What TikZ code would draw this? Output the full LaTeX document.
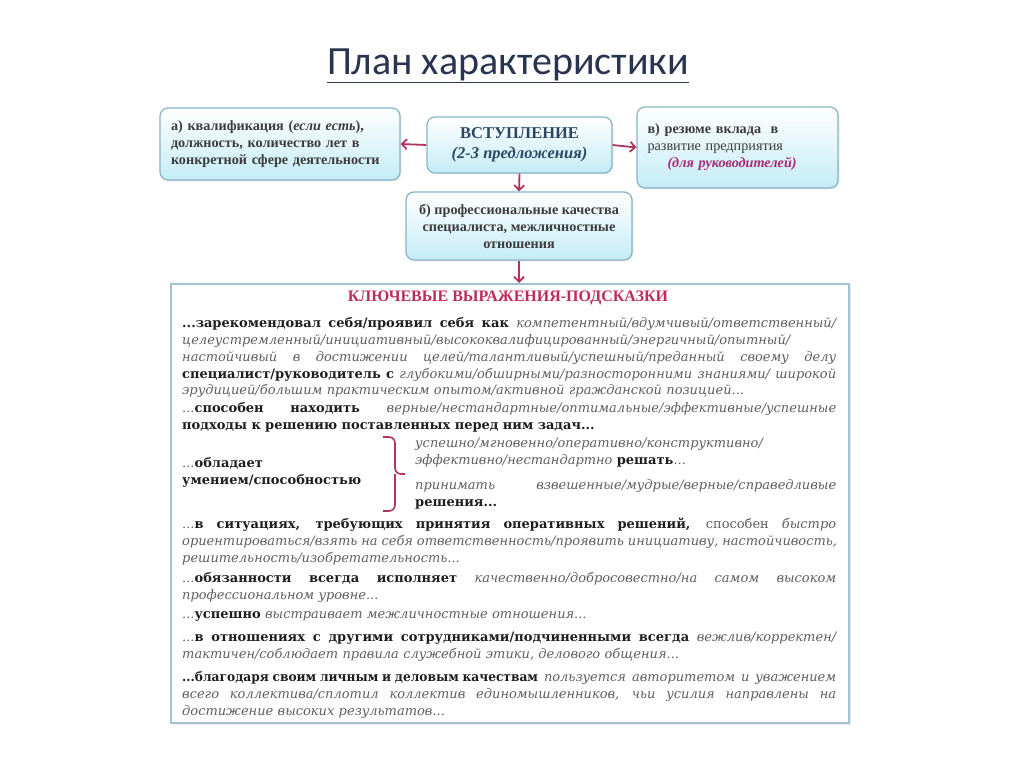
\documentclass[tikz,border=0pt]{standalone}
\usepackage{fontspec}
\setmainfont{Liberation Serif}
\newfontfamily\dvs{DejaVu Serif}
\newfontfamily\carl{Carlito}
\usetikzlibrary{arrows.meta,shadows}
\definecolor{arr}{RGB}{178,52,92}
\definecolor{bord}{RGB}{135,180,200}
\definecolor{fillb}{RGB}{196,236,246}
\definecolor{ttl}{RGB}{40,52,80}
\definecolor{boxt}{RGB}{60,60,60}
\definecolor{vst}{RGB}{45,70,100}
\definecolor{bld}{RGB}{30,30,30}
\definecolor{itc}{RGB}{95,95,95}
\definecolor{mag}{RGB}{170,40,120}
\definecolor{hdr}{RGB}{190,45,90}
\definecolor{bigb}{RGB}{160,195,212}
\newcommand\txb[1]{{\bfseries\color{bld}#1}}
\newcommand\txi[1]{{\itshape\color{itc}#1}}
\newcommand\jl[1]{\par\noindent\hbox to\linewidth{\spaceskip=.3em plus 1fil\relax #1}\par}
\newcommand\lastl[1]{\par\noindent\hbox{#1}\par}
\begin{document}
\begin{tikzpicture}[x=1pt,y=-1pt,
  rbox/.style={draw=bord, line width=1.2pt, rounded corners=8pt, top color=white, bottom color=fillb,
    drop shadow={opacity=0.15,shadow xshift=1.5pt,shadow yshift=-1.5pt},
    inner sep=0pt, text=boxt, font=\bfseries\fontsize{14.2}{17}\selectfont},
  conn/.style={draw=arr, line width=1.8pt, -{Straight Barb[length=5pt,width=10pt]}},
  para/.style={anchor=north west, yshift=16pt, inner sep=0pt, text width=654pt,
    font=\dvs\fontsize{13}{16.7}\selectfont, align=left},
  rpara/.style={para, text width=421pt},
  bracel/.style={draw=arr, line width=1.6pt, rounded corners=6pt}
]
\useasboundingbox (0,0) rectangle (1024,767);
\fill[white] (0,0) rectangle (1024,767);

\node[font=\carl\fontsize{40}{44}\selectfont, text=ttl] (title) at (508,66) {\underline{План характеристики}};

\node[rbox, minimum width=240pt, minimum height=72pt, text width=218pt, align=left] (a) at (280,144)
  {а) квалификация (\textit{если есть}),\\должность, количество лет в\\конкретной сфере деятельности};
\node[rbox, minimum width=185pt, minimum height=56pt, align=center, text=vst, font=\bfseries\fontsize{16.5}{20}\selectfont] (vst) at (519.5,145)
  {ВСТУПЛЕНИЕ\\\textit{(2-3 предложения)}};
\node[rbox, minimum width=201pt, minimum height=81pt, text width=180pt, align=left] (v) at (737.5,147.5)
  {в) резюме вклада \ в\\{\mdseries развитие предприятия}\\\hspace*{20pt}\textcolor{mag}{\itshape(для руководителей)}};
\node[rbox, minimum width=226pt, minimum height=68pt, align=center] (b) at (519,226)
  {б) профессиональные качества\\специалиста, межличностные\\отношения};

\node[draw=bigb, line width=2pt, fill=white, minimum width=678pt, minimum height=439pt, anchor=north west,
  drop shadow={opacity=0.15,shadow xshift=1.5pt,shadow yshift=-1.5pt}] (big) at (170,283) {};

\draw[conn] (vst.west) -- (a.east);
\draw[conn] (vst.east) -- (v.west);
\draw[conn] (vst.south) -- (b.north);
\draw[conn] (b.south) -- (b.south |- big.north);

\node[font=\bfseries\fontsize{16}{18}\selectfont, text=hdr] (hd) at (508,298) {КЛЮЧЕВЫЕ ВЫРАЖЕНИЯ-ПОДСКАЗКИ};

\node[para] (p1) at (182,327) {%
\jl{\txb{...зарекомендовал себя/проявил себя как} \txi{компетентный/вдумчивый/ответственный/}}%
\lastl{\txi{целеустремленный/инициативный/высококвалифицированный/энергичный/опытный/}}%
\jl{\txi{настойчивый в достижении целей/талантливый/успешный/преданный своему делу}}%
\jl{\txb{специалист/руководитель с} \txi{глубокими/обширными/разносторонними знаниями/ широкой}}%
\lastl{\txi{эрудицией/большим практическим опытом/активной гражданской позицией...}}};

\node[para] (p2) at (182,412) {%
\jl{\txi{...}\txb{способен находить} \txi{верные/нестандартные/оптимальные/эффективные/успешные}}%
\lastl{\txb{подходы к решению поставленных перед ним задач...}}};

\node[para, text width=200pt] (p3l) at (182,467) {%
\lastl{\txi{...}\txb{обладает}}%
\lastl{\txb{умением/способностью}}};

\coordinate (brt) at (383,437);
\coordinate (brm) at (395,474);
\coordinate (brb) at (383,511);
\coordinate (brp) at (405,474);
\draw[bracel] (brt) -| (brm) -- (brp);
\draw[bracel] (brb) -| (brm);

\node[rpara] (p3a) at (415,447) {%
\lastl{\txi{успешно/мгновенно/оперативно/конструктивно/}}%
\lastl{\txi{эффективно/нестандартно} \txb{решать}\txi{...}}};
\node[rpara] (p3b) at (415,489) {%
\jl{\txi{принимать} \txi{взвешенные/мудрые/верные/справедливые}}%
\lastl{\txb{решения...}}};

\node[para] (p4) at (182,528) {%
\jl{\txi{...}\txb{в ситуациях, требующих принятия оперативных решений,} \txi{\upshape способен} \txi{быстро}}%
\jl{\txi{ориентироваться/взять на себя ответственность/проявить инициативу, настойчивость,}}%
\lastl{\txi{решительность/изобретательность...}}};

\node[para] (p5) at (182,582) {%
\jl{\txi{...}\txb{обязанности всегда исполняет} \txi{качественно/добросовестно/на самом высоком}}%
\lastl{\txi{профессиональном уровне...}}};

\node[para] (p6) at (182,618) {%
\lastl{\txi{...}\txb{успешно} \txi{выстраивает межличностные отношения...}}};

\node[para] (p7) at (182,641) {%
\jl{\txi{...}\txb{в отношениях с другими сотрудниками/подчиненными всегда} \txi{вежлив/корректен/}}%
\lastl{\txi{тактичен/соблюдает правила служебной этики, делового общения...}}};

\node[para] (p8) at (182,681) {%
\jl{\scalebox{0.94}[1]{\txb{...благодаря своим личным и деловым качествам}} \txi{пользуется авторитетом и уважением}}%
\jl{\txi{всего коллектива/сплотил коллектив единомышленников, чьи усилия направлены на}}%
\lastl{\txi{достижение высоких результатов...}}};
\end{tikzpicture}
\end{document}
